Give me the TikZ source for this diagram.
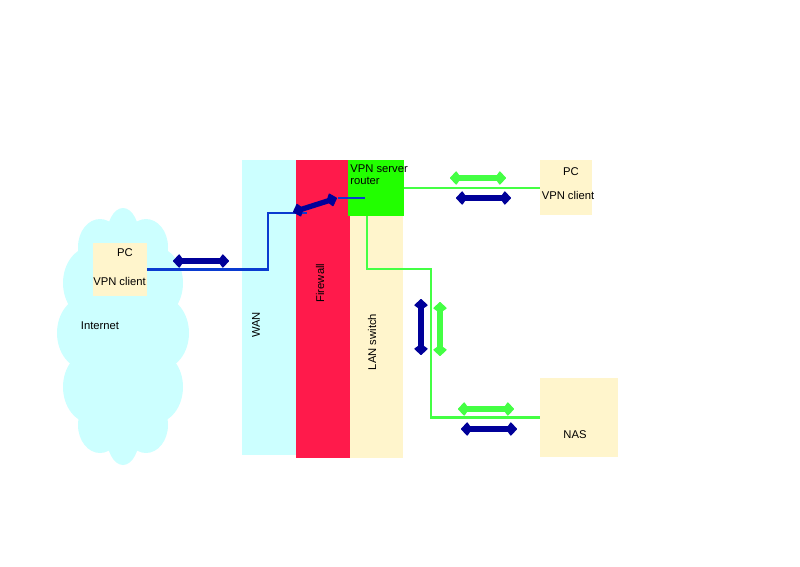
\documentclass[tikz,border=0pt]{standalone}
\usepackage{fontspec}
\setmainfont{Liberation Sans}
\usetikzlibrary{arrows.meta}
\definecolor{wancyan}{HTML}{CCFFFF}
\definecolor{firered}{HTML}{FF1A4B}
\definecolor{cream}{HTML}{FFF5CC}
\definecolor{routergreen}{HTML}{22FF00}
\definecolor{linkgreen}{HTML}{44FF44}
\definecolor{linkblue}{HTML}{0A3BD0}
\definecolor{arrowblue}{HTML}{000099}

\begin{document}
\begin{tikzpicture}[x=0.02cm,y=-0.02cm,
  box/.style={draw=none,inner sep=0pt,outer sep=0pt},
  lbl/.style={font=\fontsize{6.4}{6.8}\selectfont,inner sep=0pt},
  bluelink/.style={linkblue,line width=1.2pt},
  greenlink/.style={linkgreen,line width=1.2pt},
  dbl/.style={line width=3pt,{Kite[round,line width=0.8pt,length=6.5pt,width=8pt,inset=2.8pt]}-{Kite[round,line width=0.8pt,length=6.5pt,width=8pt,inset=2.8pt]}}]

% page size
\useasboundingbox (0,0) rectangle (800,566);

% Internet cloud
\foreach \cx/\cy/\ex/\ey in {123/240/17/32, 100/247/22/28, 146/247/22/28,
    91/283/28/36, 155/283/28/36, 85/333/28/36, 161/333/28/36,
    91/387/28/36, 155/387/28/36, 100/425/22/28, 146/425/22/28, 123/433/17/32}
  \fill[wancyan] (\cx,\cy) ellipse [x radius=\ex, y radius=\ey];
\fill[wancyan] (95,245) rectangle (151,440);
\node[box,fill=cream,minimum width=10.8mm,minimum height=10.6mm] (pcleft) at (120,269.5) {};
\node[lbl,anchor=base] at (125,256) {PC};
\node[lbl,anchor=base] at (119.5,285) {VPN client};
\node[lbl,anchor=base] at (100,329) {Internet};

% Strips
\node[box,fill=wancyan,minimum width=10.8mm,minimum height=59mm] (wan) at (269,307.5) {};
\node[box,fill=firered,minimum width=10.8mm,minimum height=59.6mm] (firewall) at (323,309) {};
\node[box,fill=cream,minimum width=10.6mm,minimum height=48.6mm] (lanswitch) at (376.5,336.5) {};
\node[box,fill=routergreen,minimum width=11.2mm,minimum height=11.2mm] (router) at (376,188) {};
\node[lbl,rotate=90] at (256,325) {WAN};
\node[lbl,rotate=90] at (320,283) {Firewall};
\node[lbl,rotate=90] at (372,342) {LAN switch};
\node[lbl,anchor=north west,align=left] at (350,164) {VPN server\\router};

% Right side devices
\node[box,fill=cream,minimum width=10.4mm,minimum height=11mm] (pcright) at (566,187.5) {};
\node[lbl,anchor=base] at (571,175) {PC};
\node[lbl,anchor=base] at (568,199) {VPN client};
\node[box,fill=cream,minimum width=15.6mm,minimum height=15.8mm] (nas) at (579,417.5) {};
\node[lbl,anchor=base] at (575,438) {NAS};

% Links
\coordinate (wanup) at (268,213);
\coordinate (fwin) at (307,213);
\coordinate (fwout) at (338,198);
\coordinate (rtin) at (365,198);
\coordinate (swup) at (431,269);
\draw[bluelink] (pcleft.east) -| (wanup) -- (fwin);
\draw[bluelink] (fwout) -- (rtin);
\draw[greenlink] (router.east) -- (router.east -| pcright.west);
\draw[greenlink] ([xshift=-1.8mm]router.south) |- (swup) |- (nas.west);

% Traffic arrows
\draw[dbl,arrowblue] (173,261) -- (229,261);
\draw[dbl,arrowblue] (293,212) -- (337,198);
\draw[dbl,linkgreen] (450,178) -- (506,178);
\draw[dbl,arrowblue] (456,198) -- (511,198);
\draw[dbl,arrowblue] (421,299) -- (421,355);
\draw[dbl,linkgreen] (440,302) -- (440,356);
\draw[dbl,linkgreen] (458,409) -- (514,409);
\draw[dbl,arrowblue] (461,429) -- (517,429);

\end{tikzpicture}
\end{document}
